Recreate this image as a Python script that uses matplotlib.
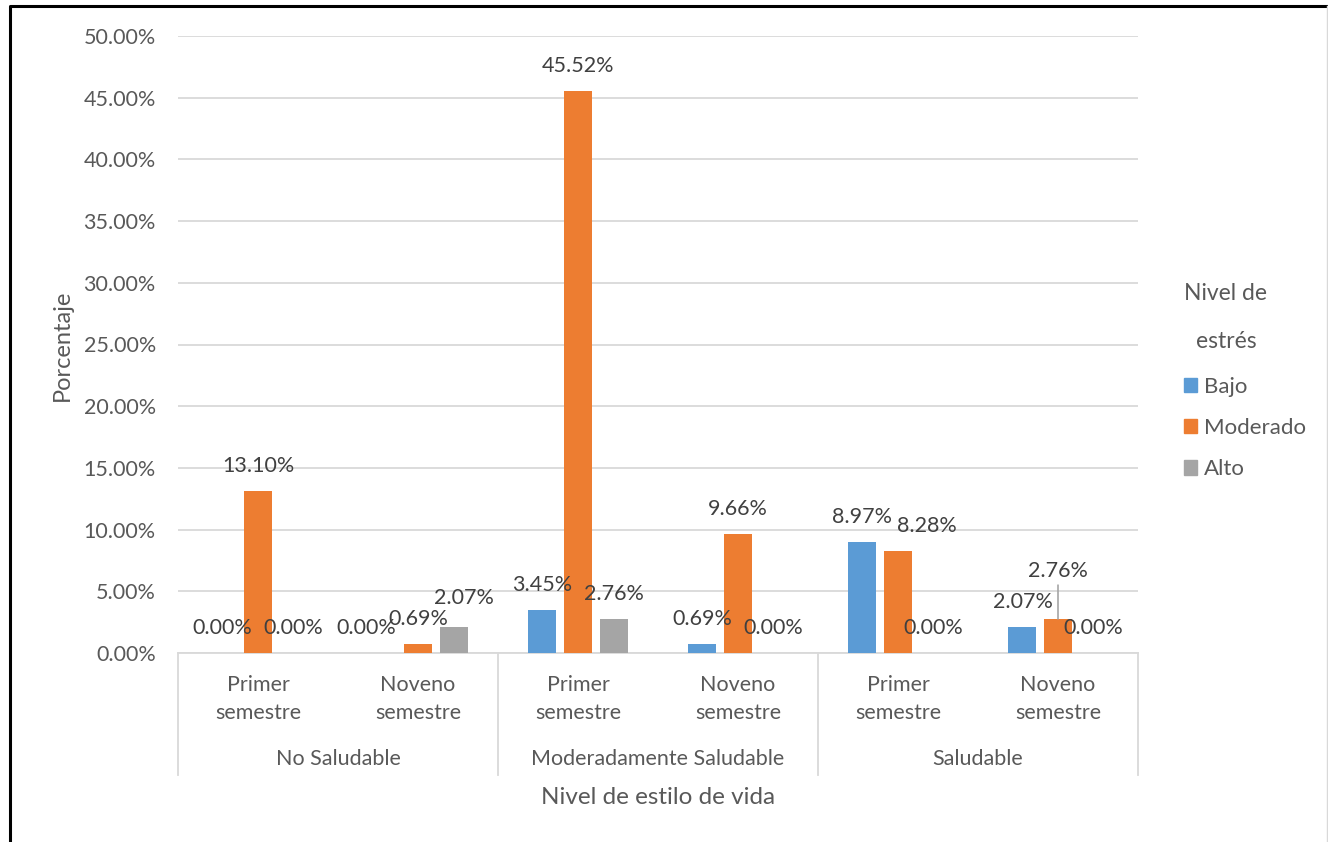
import matplotlib.pyplot as plt
import numpy as np
from matplotlib.lines import Line2D
from matplotlib.patches import Patch

plt.rcParams['font.family'] = ['Lato', 'DejaVu Sans']

# datos
grupos = ["No Saludable", "Moderadamente Saludable", "Saludable"]
semestres = ["Primer\nsemestre", "Noveno\nsemestre"]
series = ["Bajo", "Moderado", "Alto"]
bajo = [0.00, 0.00, 3.45, 0.69, 8.97, 2.07]
moderado = [13.10, 0.69, 45.52, 9.66, 8.28, 2.76]
alto = [0.00, 2.07, 2.76, 0.00, 0.00, 0.00]
valores = [bajo, moderado, alto]
colores = ["#5B9BD5", "#ED7D31", "#A5A5A5"]

# ajustes de etiquetas (px) para (serie, barra)
ajustes = {(0, 1): (-16, 0), (2, 1): (10, 4), (1, 4): (29, 0), (1, 5): (0, 23)}

texto = "#595959"
W, H = 1328, 842
fig = plt.figure(figsize=(W / 100, H / 100), dpi=100)
ax = fig.add_axes([178 / W, 1 - 653 / H, (1138 - 178) / W, (653 - 36) / H])

n = len(bajo)
x = np.arange(n)
ancho = 0.175
paso = 0.222
for k, (serie, vals, col) in enumerate(zip(series, valores, colores)):
    pos = x + (k - 1) * paso
    ax.bar(pos, vals, width=ancho, color=col, label=serie, zorder=3)
    for i, (p, v) in enumerate(zip(pos, vals)):
        dx, dy = ajustes.get((k, i), (0, 0))
        props = None
        if dy > 10:
            props = dict(arrowstyle='-', color="#A5A5A5", lw=1.2,
                         shrinkA=1, shrinkB=0, relpos=(0.5, 0))
        ax.annotate(f"{v:.2f}%", xy=(p, v), xytext=(dx * 0.72, (25 + dy) * 0.72),
                    textcoords="offset points", ha="center", va="center",
                    fontsize=15.5, color="#404040", arrowprops=props, zorder=4)

ax.set_xlim(-0.5, n - 0.5)
ax.set_ylim(0, 50)
ax.set_yticks(np.arange(0, 50.1, 5))
ax.set_yticklabels([f"{t:.2f}%" for t in np.arange(0, 50.1, 5)])
ax.tick_params(axis='y', length=0, pad=16, labelsize=15.5, labelcolor=texto)
ax.set_xticks([])
ax.grid(axis='y', color="#D9D9D9", lw=1.3, zorder=0)
for s in ["top", "right", "left"]:
    ax.spines[s].set_visible(False)
ax.spines["bottom"].set_color("#D9D9D9")
ax.spines["bottom"].set_linewidth(1.3)

# ejes de categorias
tr = ax.get_xaxis_transform()
for i in range(n):
    ax.text(i, -0.0746, semestres[i % 2], transform=tr, ha="center", va="center",
            fontsize=15.5, color=texto, linespacing=1.5)
for g, nombre in enumerate(grupos):
    ax.text(2 * g + 0.5, -0.172, nombre, transform=tr, ha="center", va="center",
            fontsize=15.5, color=texto)
for b in [-0.5, 1.5, 3.5, 5.5]:
    ax.plot([b, b], [0, -0.198], transform=tr, color="#D9D9D9", lw=1.3, clip_on=False)

fig.text(658 / W, 1 - 798 / H, "Nivel de estilo de vida", ha="center", va="center",
         fontsize=17.5, color=texto)
fig.text(62 / W, 1 - 345 / H, "Porcentaje", ha="center", va="center",
         rotation=90, fontsize=17, color=texto)

# leyenda
fig.text(1226 / W, 1 - 294 / H, "Nivel de", ha="center", va="center", fontsize=16.5, color=texto)
fig.text(1226 / W, 1 - 342 / H, "estrés", ha="center", va="center", fontsize=16.5, color=texto)
manijas = [Patch(color=c) for c in colores]
fig.legend(manijas, series, loc="upper left", bbox_to_anchor=(1173 / W, 1 - 366 / H),
           frameon=False, fontsize=16, labelcolor=texto, handlelength=0.6,
           handleheight=0.6, handletextpad=0.3, labelspacing=0.95, borderpad=0)

# marco
fig.add_artist(Line2D([10 / W, 10 / W, 1326 / W], [0, 1 - 6 / H, 1 - 6 / H],
                      transform=fig.transFigure, color="black", lw=2.2))
fig.add_artist(Line2D([1326.5 / W, 1326.5 / W], [0, 1 - 6 / H],
                      transform=fig.transFigure, color="#D9D9D9", lw=1))

fig.savefig("out.png", dpi=100)
